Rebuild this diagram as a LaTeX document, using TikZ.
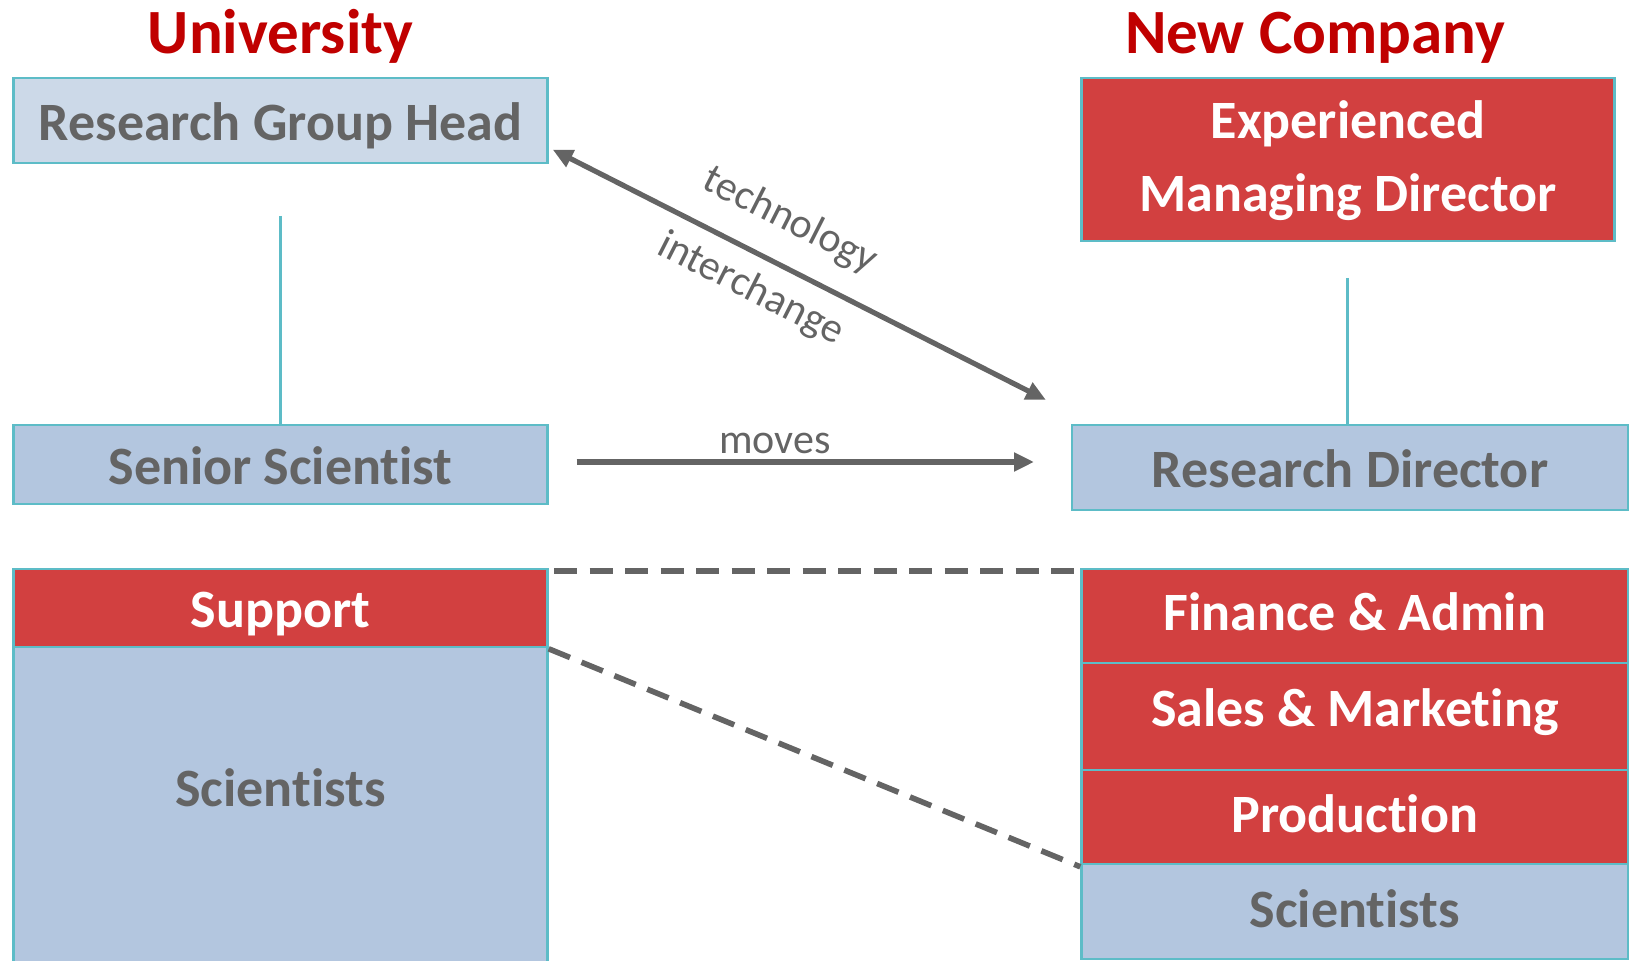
\documentclass[tikz,border=0pt]{standalone}
\usepackage{fontspec}
\setmainfont{Carlito}[Ligatures=NoCommon]
\usetikzlibrary{arrows.meta,calc}
\definecolor{tealb}{HTML}{5DBCC7}
\definecolor{redf}{HTML}{D24040}
\definecolor{bluef}{HTML}{B3C6DF}
\definecolor{bluel}{HTML}{CCD9E8}
\definecolor{grayt}{HTML}{646464}
\definecolor{titler}{HTML}{C00000}
\begin{document}
\begin{tikzpicture}[x=0.5pt,y=-0.5pt,
 box/.style={draw=tealb, line width=1.2pt, inner sep=0pt, text height=20pt, text depth=0pt, font=\fontsize{27pt}{32pt}\selectfont\bfseries, align=center},
 bluebox/.style={box, fill=bluef, text=grayt},
 redbox/.style={box, fill=redf, text=white},
 boxtext/.style={font=\fontsize{27pt}{32pt}\selectfont\bfseries, inner sep=0pt, anchor=base},
 title/.style={font=\fontsize{31.5pt}{36pt}\selectfont\bfseries, text=titler, inner sep=0pt, anchor=base},
 lbl/.style={font=\fontsize{21pt}{25pt}\selectfont, text=grayt, inner sep=0pt},
 conn/.style={draw=tealb, line width=1.5pt},
 arr/.style={draw=grayt, line width=2.6pt, -{Triangle[length=10pt,width=9pt]}},
 dashline/.style={draw=grayt, line width=2.8pt, dash pattern=on 11.5pt off 6.25pt}
]
\useasboundingbox (0,0) rectangle (1629,961);
% titles
\node[title] (tuni) at (280.5,54) {University};
\node[title] (tnew) at (1315,54) {New Company};
% university column
\node[bluebox, fill=bluel, minimum width=267pt, minimum height=42.5pt] (rgh) at (280.5,120.5) {Research Group Head};
\node[bluebox, minimum width=267pt, minimum height=39.5pt] (ss) at (280.5,464.5) {Senior Scientist};
\node[redbox, minimum width=267pt, minimum height=39pt] (sup) at (280.5,608) {Support};
\node[bluebox, minimum width=267pt, minimum height=158pt, text depth=18pt] (lsci) at (280.5,805) {Scientists};
% company column
\node[redbox, minimum width=266.5pt, minimum height=81.5pt] (emd) at (1348,159.5) {};
\node[boxtext, text=white] (emd1) at (1348,139) {Experienced};
\node[boxtext, text=white] (emd2) at (1348,212) {Managing Director};
\node[bluebox, minimum width=278pt, minimum height=42.5pt] (rd) at (1350,467.5) {Research Director};
\node[redbox, minimum width=273.25pt, minimum height=47pt, text depth=5pt] (fin) at (1354.75,616) {Finance \& Admin};
\node[redbox, minimum width=273.25pt, minimum height=53.5pt, text depth=10pt] (sal) at (1354.75,716.5) {Sales \& Marketing};
\node[redbox, minimum width=273.25pt, minimum height=47pt, text depth=4pt] (prod) at (1354.75,817) {Production};
\node[bluebox, minimum width=273.25pt, minimum height=47.5pt, text depth=3.5pt] (rsci) at (1354.75,911.5) {Scientists};
% hierarchy lines
\coordinate (v1) at (280.5,216);
\draw[conn] (v1) -- (ss.north);
\coordinate (v2) at (1347.5,278);
\draw[conn] (v2) -- (v2 |- rd.north);
% moves
\coordinate (m1) at (576.6,462);
\coordinate (m2) at (1034,462);
\draw[arr] (m1) -- (m2);
\node[lbl, anchor=base] (moves) at (775,454) {moves};
% technology interchange
\coordinate (t1) at (552.7,149.6);
\coordinate (t2) at (1046,400);
\draw[arr, {Triangle[length=10pt,width=9pt]}-{Triangle[length=10pt,width=9pt]}] (t1) -- (t2);
\node[lbl, rotate=-26.9] (tech) at (790,221) {technology};
\node[lbl, rotate=-26.9] (inter) at (751,289) {interchange};
% dashed links
\draw[dashline] ([xshift=2.75pt,yshift=-1.5pt]sup.north east) -- ([yshift=-1.5pt]fin.north west);
\draw[dashline] ([yshift=-1.5pt]lsci.north east) -- ([yshift=-2pt]rsci.north west);
\end{tikzpicture}
\end{document}
